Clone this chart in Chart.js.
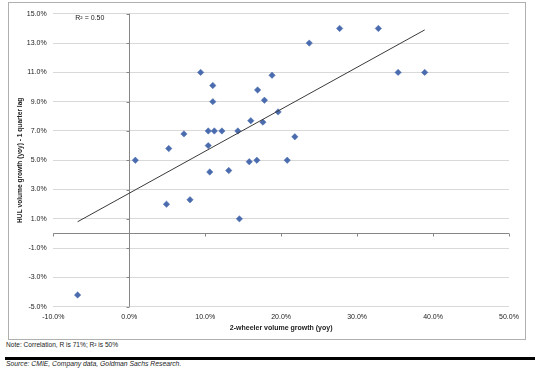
<!DOCTYPE html>
<html>
<head>
<meta charset="utf-8">
<title>HUL volume growth vs 2-wheeler volume growth</title>
<script src="https://cdn.jsdelivr.net/npm/chart.js@4.4.0/dist/chart.umd.min.js"></script>
<style>
body { margin:0; background:#fff; font-family:"Liberation Sans", Arial, sans-serif; }

/* chart frame */
#frame {
  position:absolute; left:8px; top:2px;
  width:516px; height:336px;
  border:1px solid #b0b0b0;
}
#frame canvas { display:block; }

.note {
  position:absolute; left:6px; top:341px;
  font-size:6.6px; color:#222;
}
.rule {
  position:absolute; left:5px; top:357px;
  width:530px; height:2.5px; background:#000;
}
.source {
  position:absolute; left:6px; top:360px;
  font-size:6.8px; font-style:italic; color:#222;
}
</style>
</head>
<body>

<div id="frame"><canvas id="scatter" width="516" height="336"></canvas></div>
<div class="note">Note: Correlation, R is 71%; R² is 50%</div>
<div class="rule"></div>
<div class="source">Source: CMIE, Company data, Goldman Sachs Research.</div>

<script>
// 2-wheeler volume growth (yoy, %) and HUL volume growth 1 quarter later (%)
var wheelerGrowth = [-6.8, 0.8, 4.9, 5.2, 7.2, 8.0, 9.4, 10.4, 10.4, 10.6, 11.0, 11.0, 11.2, 12.2, 13.1, 14.3,
                     14.5, 15.8, 16.0, 16.8, 16.9, 17.6, 17.8, 18.8, 19.6, 20.8, 21.8, 23.7, 27.7, 32.8, 35.4, 38.9];
var hulGrowth     = [-4.2, 5.0, 2.0, 5.8, 6.8, 2.3, 11.0, 7.0, 6.0, 4.2, 10.1, 9.0, 7.0, 7.0, 4.3, 7.0,
                     1.0, 4.9, 7.7, 5.0, 9.8, 7.6, 9.1, 10.8, 8.3, 5.0, 6.6, 13.0, 14.0, 14.0, 11.0, 11.0];

// linear trendline end points as drawn
var trendX = [-6.8, 38.9];
var trendY = [0.8, 13.9];

var xTicks = [-10, 0, 10, 20, 30, 40, 50];
var yTicks = [-5, -3, -1, 1, 3, 5, 7, 9, 11, 13, 15];
var rSquaredLabel = 'R² = 0.50';

var points = wheelerGrowth.map(function (x, i) { return {x: x, y: hulGrowth[i]}; });
var trend = trendX.map(function (x, i) { return {x: x, y: trendY[i]}; });

var FONT = '"Liberation Sans", Arial, sans-serif';
var TXT = '#222';

// zero cross-axes with outside tick marks, plus the R² label
var crossAxes = {
  id: 'crossAxes',
  beforeDatasetsDraw: function (chart) {
    var ctx = chart.ctx, a = chart.chartArea;
    var xs = chart.scales.x, ys = chart.scales.y;
    var x0 = Math.round(xs.getPixelForValue(0)) + 0.5;
    var y0 = Math.round(ys.getPixelForValue(0)) + 0.5;
    ctx.save();
    ctx.strokeStyle = '#868686';
    ctx.lineWidth = 1;
    ctx.beginPath();
    ctx.moveTo(a.left, y0); ctx.lineTo(a.right, y0);
    ctx.moveTo(x0, a.top); ctx.lineTo(x0, a.bottom);
    xTicks.forEach(function (v) {
      var px = Math.round(xs.getPixelForValue(v)) + 0.5;
      ctx.moveTo(px, y0); ctx.lineTo(px, y0 + 3);
    });
    yTicks.forEach(function (v) {
      var py = Math.round(ys.getPixelForValue(v)) + 0.5;
      ctx.moveTo(x0 - 3, py); ctx.lineTo(x0, py);
    });
    ctx.stroke();
    ctx.restore();
  },
  afterDraw: function (chart) {
    var ctx = chart.ctx, a = chart.chartArea;
    ctx.save();
    ctx.fillStyle = TXT;
    ctx.font = '7px ' + FONT;
    ctx.textBaseline = 'middle';
    ctx.fillText(rSquaredLabel, a.left + 22, a.top + 4.5);
    ctx.restore();
  }
};

new Chart(document.getElementById('scatter'), {
  type: 'scatter',
  data: {
    datasets: [{
      data: points,
      pointStyle: 'rectRot',
      pointRadius: 3.2,
      pointBackgroundColor: '#4a6cae',
      pointBorderColor: '#4a6cae',
      pointBorderWidth: 0.5,
      order: 2
    }, {
      type: 'line',
      data: trend,
      borderColor: '#3a3a3a',
      borderWidth: 1,
      pointRadius: 0,
      fill: false,
      order: 1
    }]
  },
  options: {
    responsive: false,
    animation: false,
    events: [],
    layout: { padding: { top: 6.3, right: 16, left: 0, bottom: 0 } },
    plugins: { legend: { display: false }, tooltip: { enabled: false } },
    scales: {
      x: {
        type: 'linear', min: -10, max: 50,
        afterBuildTicks: function (s) { s.ticks = xTicks.map(function (v) { return {value: v}; }); },
        afterFit: function (s) { s.height = 32.3; },
        grid: { display: false, drawTicks: false },
        border: { display: false },
        ticks: {
          padding: 6,
          color: TXT,
          font: { family: FONT, size: 7 },
          maxRotation: 0,
          callback: function (v) { return v.toFixed(1) + '%'; }
        },
        title: {
          display: true,
          text: '2-wheeler volume growth (yoy)',
          color: TXT,
          font: { family: FONT, size: 7, weight: 'bold' },
          padding: { top: 0, bottom: 6.8 }
        }
      },
      y: {
        type: 'linear', min: -5, max: 15,
        afterBuildTicks: function (s) { s.ticks = yTicks.map(function (v) { return {value: v}; }); },
        afterFit: function (s) { s.width = 44.3; },
        grid: { color: '#d9d9d9', lineWidth: 1, drawTicks: false },
        border: { display: false },
        ticks: {
          padding: 6.6,
          color: TXT,
          font: { family: FONT, size: 7 },
          callback: function (v) { return v.toFixed(1) + '%'; }
        },
        title: {
          display: true,
          text: 'HUL volume growth (yoy) - 1 quarter lag',
          color: TXT,
          font: { family: FONT, size: 6.6, weight: 'bold' },
          padding: { top: 6.8, bottom: 0 }
        }
      }
    }
  },
  plugins: [crossAxes]
});
</script>
</body>
</html>
